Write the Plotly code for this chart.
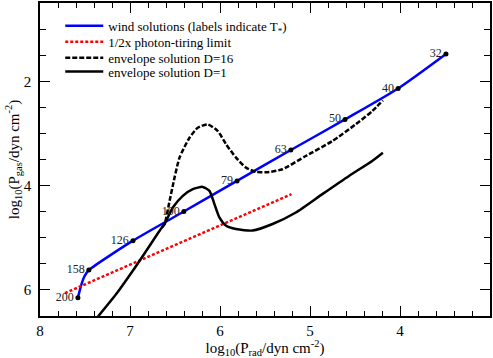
import plotly.graph_objects as go

# wind solutions (blue line), labelled points T* in kK
wind_x = [7.579, 7.538, 7.502, 7.457, 6.967, 6.402, 5.811, 5.213, 4.611, 4.021, 3.489]
wind_y = [6.151, 5.884, 5.725, 5.620, 5.056, 4.497, 3.910, 3.318, 2.732, 2.139, 1.478]
label_x = [7.579, 7.457, 6.967, 6.402, 5.811, 5.213, 4.611, 4.021, 3.489]
label_y = [6.151, 5.620, 5.056, 4.497, 3.910, 3.318, 2.732, 2.139, 1.478]
labels = ["200", "158", "126", "100", "79", "63", "50", "40", "32"]

# 1/2x photon-tiring limit
tiring_x = [7.723, 5.206]
tiring_y = [6.063, 4.164]

# envelope solution D=16
d16_x = [6.645, 6.616, 6.560, 6.505, 6.450, 6.339, 6.247, 6.136, 6.025, 5.932, 5.822,
         5.711, 5.600, 5.453, 5.306, 5.047, 4.752, 4.493, 4.309, 4.190]
d16_y = [4.80, 4.737, 4.292, 3.847, 3.465, 3.083, 2.892, 2.827, 2.955, 3.209, 3.465,
         3.656, 3.738, 3.738, 3.687, 3.433, 3.146, 2.827, 2.573, 2.369]

# envelope solution D=1
d1_x = [7.36, 7.151, 6.967, 6.818, 6.671, 6.616, 6.524, 6.413, 6.302, 6.192, 6.117, 6.062,
        6.007, 5.932, 5.822, 5.638, 5.416, 5.157, 4.863, 4.567, 4.309, 4.190]
d1_y = [6.52, 6.075, 5.629, 5.247, 4.865, 4.737, 4.420, 4.197, 4.069, 4.025, 4.101, 4.355,
        4.611, 4.770, 4.833, 4.862, 4.737, 4.516, 4.164, 3.815, 3.528, 3.370]

serif = "Liberation Serif"

fig = go.Figure()
fig.add_trace(go.Scatter(x=wind_x, y=wind_y, mode="lines", line=dict(color="#0000ff", width=2.5, shape="spline", smoothing=0.6),
                         name="wind solutions (labels indicate T<sub>*</sub>)", legend="legend"))
fig.add_trace(go.Scatter(x=tiring_x, y=tiring_y, mode="lines", line=dict(color="#ff0000", width=2.5, dash="3px,2px"),
                         name="1/2x photon-tiring limit", legend="legend2"))
fig.add_trace(go.Scatter(x=d16_x, y=d16_y, mode="lines", line=dict(color="black", width=2.5, dash="5px,2px", shape="spline", smoothing=0.6),
                         name="envelope solution D=16", legend="legend3"))
fig.add_trace(go.Scatter(x=d1_x, y=d1_y, mode="lines", line=dict(color="black", width=2.5, shape="spline", smoothing=0.6),
                         name="envelope solution D=1", legend="legend4"))
fig.add_trace(go.Scatter(x=label_x, y=label_y, mode="markers+text", text=labels,
                         textposition="middle left", marker=dict(color="black", size=5),
                         textfont=dict(family=serif, size=12, color="#222"), showlegend=False))

axis_common = dict(showline=True, linecolor="black", linewidth=1.5, mirror="allticks",
                   ticks="inside", ticklen=10, tickwidth=1.2, tickcolor="black",
                   showgrid=False, zeroline=False,
                   tickfont=dict(family=serif, size=15, color="black"))

fig.update_xaxes(range=[8, 3], dtick=1, tick0=3,
                 minor=dict(dtick=0.2, ticklen=5, tickwidth=1.2, tickcolor="black", ticks="inside"),
                 title=dict(text="log<sub>10</sub>(P<sub>rad</sub>/dyn cm<sup>-2</sup>)",
                            font=dict(family=serif, size=15, color="black"), standoff=2),
                 **axis_common)
fig.update_yaxes(range=[6.5, 0.5], dtick=2, tick0=0, ticklabelstandoff=4,
                 minor=dict(dtick=0.5, ticklen=6, tickwidth=1.2, tickcolor="black", ticks="inside"),
                 title=dict(text="log<sub>10</sub>(P<sub>gas</sub>/dyn cm<sup>-2</sup>)",
                            font=dict(family=serif, size=15, color="black"), standoff=0),
                 **axis_common)

# one legend per entry so the row spacing can follow the original
leg = dict(x=0.045, xanchor="left", yanchor="middle", bgcolor="rgba(0,0,0,0)",
           font=dict(family=serif, size=13, color="black"), itemwidth=38)
fig.update_layout(
    width=493, height=358,
    margin=dict(l=40, r=2, t=1, b=42),
    plot_bgcolor="white", paper_bgcolor="white",
    legend=dict(leg, y=0.927),
    legend2=dict(leg, y=0.876),
    legend3=dict(leg, y=0.825),
    legend4=dict(leg, y=0.781),
)

fig.write_html("out.html", post_script="document.body.style.margin='0';",
               config={"displayModeBar": False})
